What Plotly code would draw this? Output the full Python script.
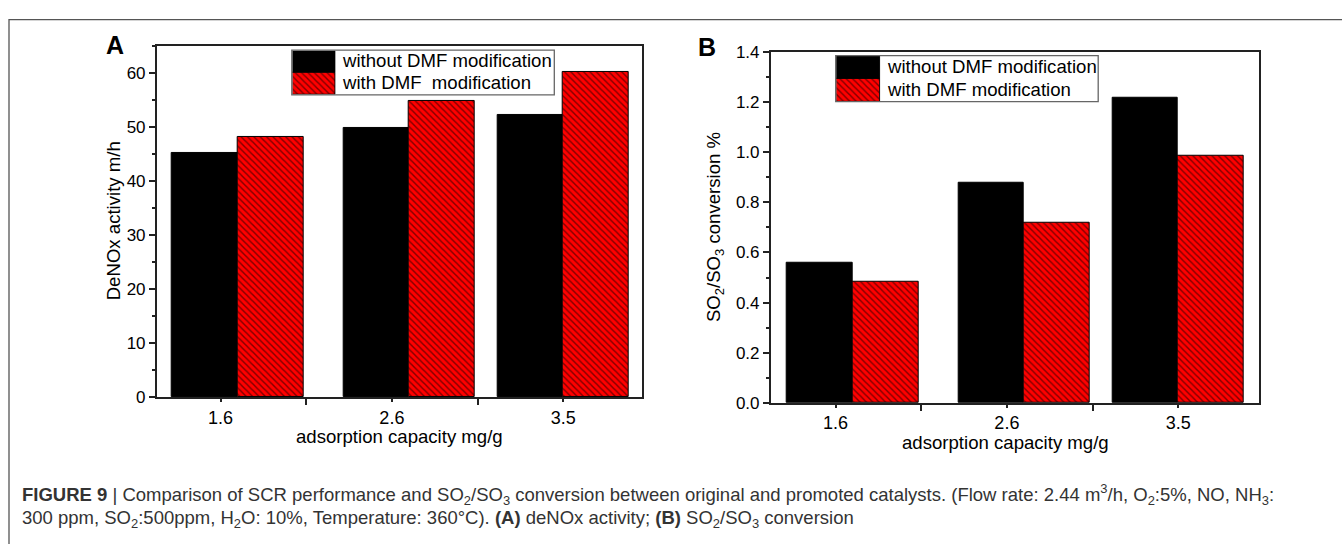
import plotly.graph_objects as go

W, H = 1342, 544


def px(x):
    return x / W


def py(y):
    return 1 - y / H


# ---------------- data ----------------
categories = ["1.6", "2.6", "3.5"]          # adsorption capacity mg/g
series_A = ["without DMF modification", "with DMF  modification"]
series_B = ["without DMF modification", "with DMF modification"]
denox_without = [45.2, 49.8, 52.3]          # DeNOx activity m/h
denox_with = [48.1, 54.8, 60.1]
so2_without = [0.560, 0.877, 1.218]         # SO2/SO3 conversion %
so2_with = [0.483, 0.717, 0.986]
tick_pos = [1.5, 2.5, 3.5]                  # where the original plot put its labels
tick_labels = categories

x_vals = [float(c) for c in categories]
BAR_W = 0.383
FONT = "Arial, Liberation Sans, Helvetica, sans-serif"
RED = "#ff0000"
AXC = "#222222"

fig = go.Figure()


def red_marker():
    return dict(color=RED, line=dict(color="black", width=1),
                pattern=dict(shape="\\", fgcolor="black", bgcolor=RED,
                             size=4.5, solidity=0.32))


def add_pair(xa, ya, without, with_, names):
    fig.add_trace(go.Bar(x=x_vals, y=without, width=BAR_W, offset=-BAR_W,
                         name=names[0], xaxis=xa, yaxis=ya, showlegend=False,
                         marker=dict(color="black", line=dict(color="black", width=1))))
    fig.add_trace(go.Bar(x=x_vals, y=with_, width=BAR_W, offset=0,
                         name=names[1], xaxis=xa, yaxis=ya, showlegend=False,
                         marker=red_marker()))


add_pair("x", "y", denox_without, denox_with, series_A)
add_pair("x2", "y2", so2_without, so2_with, series_B)


# legend swatches (large Origin-style keys)
def add_keys(xa, ya):
    fig.add_trace(go.Bar(x=[1], y=[1], orientation="h", width=1, base=0,
                         xaxis=xa, yaxis=ya, showlegend=False, hoverinfo="skip",
                         marker=dict(color="black", line=dict(color="black", width=1))))
    fig.add_trace(go.Bar(x=[1], y=[0], orientation="h", width=1, base=0,
                         xaxis=xa, yaxis=ya, showlegend=False, hoverinfo="skip",
                         marker=red_marker()))


add_keys("x3", "y3")
add_keys("x4", "y4")


def xaxis(dom, rng, anchor):
    return dict(domain=dom, range=rng, anchor=anchor, tickmode="array",
                tickvals=tick_pos, ticktext=tick_labels, ticks="outside",
                ticklen=3, tickwidth=1.5, tickcolor=AXC,
                minor=dict(tickmode="linear", tick0=0, dtick=1, ticks="outside",
                           ticklen=6, tickwidth=1.5, tickcolor=AXC),
                showline=True, mirror=True, linecolor=AXC, linewidth=1.5,
                showgrid=False, zeroline=False,
                tickfont=dict(family=FONT, size=18, color="black"))


def yaxis(dom, rng, dtick, anchor, fmt):
    return dict(domain=dom, range=rng, anchor=anchor, tick0=0, dtick=dtick,
                tickformat=fmt, ticks="outside", ticklen=6, tickwidth=1.5,
                tickcolor=AXC,
                minor=dict(dtick=dtick / 2, ticks="outside", ticklen=3,
                           tickwidth=1.5, tickcolor=AXC),
                showline=True, mirror=True, linecolor=AXC, linewidth=1.5,
                showgrid=False, zeroline=False,
                tickfont=dict(family=FONT, size=17, color="black"))


def hidden(dom, rng, anchor):
    return dict(domain=dom, range=rng, anchor=anchor, visible=False,
                fixedrange=True, showgrid=False, zeroline=False)


fig.update_layout(
    width=W, height=H, autosize=False,
    margin=dict(l=0, r=0, t=0, b=0),
    paper_bgcolor="white", plot_bgcolor="rgba(0,0,0,0)",
    barmode="overlay", bargap=0,
    xaxis=xaxis([px(156.7), px(641.8)], [1.127, 3.959], "y"),
    yaxis=yaxis([py(402.3), py(38.3)], [0, 65], 10, "x", "d"),
    xaxis2=xaxis([px(770.7), px(1259)], [1.121, 3.972], "y2"),
    yaxis2=yaxis([py(408.3), py(44.3)], [0, 1.4], 0.2, "x2", ".1f"),
    xaxis3=hidden([px(292.5), px(335.7)], [0, 1], "y3"),
    yaxis3=hidden([py(88.5), py(43.3)], [-0.5, 1.5], "x3"),
    xaxis4=hidden([px(836.2), px(880.4)], [0, 1], "y4"),
    yaxis4=hidden([py(95.8), py(48.6)], [-0.5, 1.5], "x4"),
    showlegend=False,
)

shapes = [
    # outer figure frame
    dict(type="rect", xref="paper", yref="paper", x0=px(9), y0=py(560),
         x1=px(1360), y1=py(11), line=dict(color="#555555", width=1.3)),
    # legend boxes
    dict(type="rect", xref="paper", yref="paper", x0=px(291.8), x1=px(554.3),
         y0=py(89), y1=py(42.7), line=dict(color="#666666", width=1.3)),
    dict(type="rect", xref="paper", yref="paper", x0=px(835.7), x1=px(1098.2),
         y0=py(96), y1=py(48.3), line=dict(color="#666666", width=1.3)),
]
fig.update_layout(shapes=shapes)


def ann(x, y, text, size, xanchor="center", angle=0, bold=False, color="black"):
    if bold:
        text = "<b>" + text + "</b>"
    return dict(x=px(x), y=py(y), xref="paper", yref="paper", text=text,
                showarrow=False, xanchor=xanchor, yanchor="middle",
                textangle=angle, font=dict(family=FONT, size=size, color=color))


cap1 = ("<b>FIGURE 9</b> | Comparison of SCR performance and SO<sub>2</sub>/SO<sub>3</sub> "
        "conversion between original and promoted catalysts. (Flow rate: 2.44 m<sup>3</sup>/h, "
        "O<sub>2</sub>:5%, NO, NH<sub>3</sub>:")
cap2 = ("300 ppm, SO<sub>2</sub>:500ppm, H<sub>2</sub>O: 10%, Temperature: 360°C). "
        "<b>(A)</b> deNOx activity; <b>(B)</b> SO<sub>2</sub>/SO<sub>3</sub> conversion")

annotations = [
    ann(114.5, 37, "A", 25, bold=True),
    ann(707, 39, "B", 25, bold=True),
    ann(340, 53.5, series_A[0], 18.6, xanchor="left"),
    ann(340, 76.5, series_A[1], 18.6, xanchor="left"),
    ann(884.6, 59.5, series_B[0], 18.6, xanchor="left"),
    ann(884.6, 83, series_B[1], 18.6, xanchor="left"),
    ann(113, 220, "DeNOx activity m/h", 18.6, angle=-90),
    ann(715, 226, "SO<sub>2</sub>/SO<sub>3</sub> conversion %", 18.6, angle=-90),
    ann(399.5, 443, "adsorption capacity mg/g", 18.6),
    ann(1005, 449, "adsorption capacity mg/g", 18.6),
    ann(20, 503, cap1, 18.5, xanchor="left", color="#333333"),
    ann(20, 528, cap2, 18.5, xanchor="left", color="#333333"),
]
fig.update_layout(annotations=annotations)

fig.write_html("out.html")
